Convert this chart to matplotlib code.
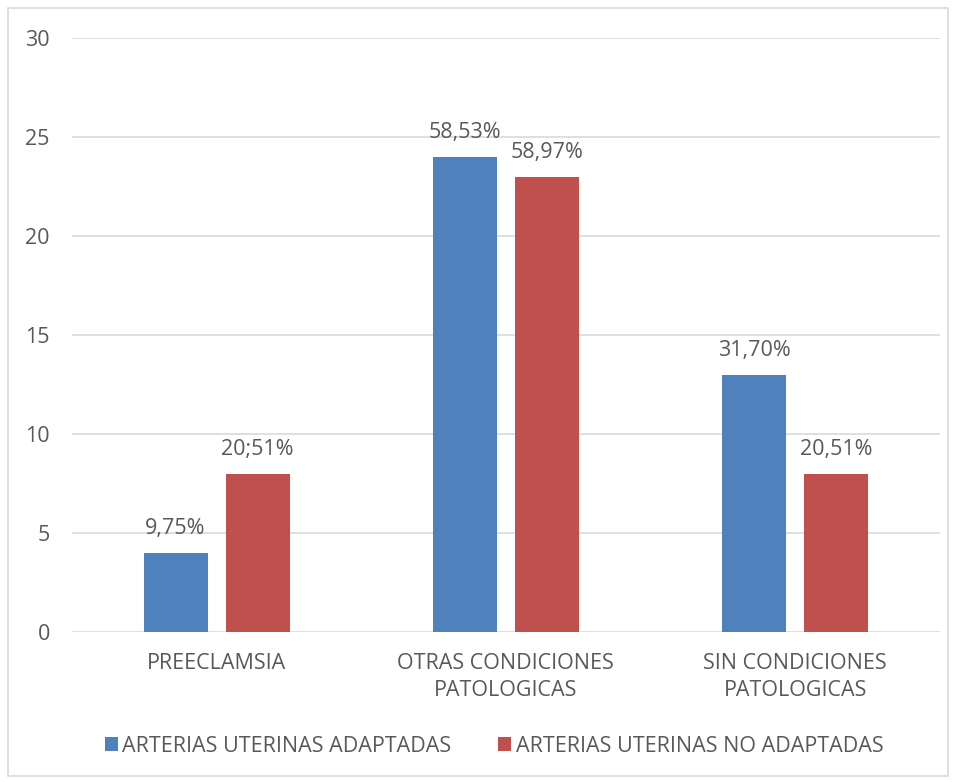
import matplotlib.pyplot as plt
import numpy as np
from matplotlib.patches import Rectangle

# datos del grafico
categorias = ['PREECLAMSIA', 'OTRAS CONDICIONES\nPATOLOGICAS', 'SIN CONDICIONES\nPATOLOGICAS']
adaptadas = [4, 24, 13]
no_adaptadas = [8, 23, 8]
etiquetas_adaptadas = ['9,75%', '58,53%', '31,70%']
etiquetas_no_adaptadas = ['20;51%', '58,97%', '20,51%']
series = ['ARTERIAS UTERINAS ADAPTADAS', 'ARTERIAS UTERINAS NO ADAPTADAS']

azul = '#4F81BD'
rojo = '#C0504D'
gris = '#595959'
tam = 15.5

plt.rcParams['font.family'] = ['Open Sans', 'DejaVu Sans']

fig = plt.figure(figsize=(9.56, 7.82), dpi=100)
ax = fig.add_axes([0.0753, 0.1918, 0.9077, 0.7596])

x = np.arange(len(categorias))
ancho = 0.221
desp = 0.142

b1 = ax.bar(x - desp, adaptadas, ancho, color=azul, label=series[0], zorder=3)
b2 = ax.bar(x + desp, no_adaptadas, ancho, color=rojo, label=series[1], zorder=3)

for barras, textos in ((b1, etiquetas_adaptadas), (b2, etiquetas_no_adaptadas)):
    for b, t in zip(barras, textos):
        ax.annotate(t, (b.get_x() + b.get_width() / 2, b.get_height()),
                    xytext=(0, 10), textcoords='offset points',
                    ha='center', va='bottom', fontsize=tam, color=gris)

ax.set_xlim(-0.5, 2.5)
ax.set_ylim(0, 30)
ax.set_yticks(range(0, 31, 5))
ax.set_xticks(x)
ax.set_xticklabels(categorias, fontsize=tam, color=gris, linespacing=1.4)
ax.tick_params(axis='y', labelsize=tam, labelcolor=gris, length=0, pad=16)
ax.tick_params(axis='x', length=0, pad=15)
ax.grid(axis='y', color='#D9D9D9', linewidth=1.2, zorder=0)
for s in ax.spines.values():
    s.set_visible(False)

ax.legend(loc='center', bbox_to_anchor=(494 / 956, 1 - 746 / 782), bbox_transform=fig.transFigure,
          ncol=2, frameon=False, fontsize=tam, labelcolor=gris,
          handlelength=0.6, handleheight=0.6, handletextpad=0.2, columnspacing=2.2)

# borde exterior del grafico
fig.patches.append(Rectangle((8 / 956, 6 / 782), 940 / 956, 768 / 782,
                             transform=fig.transFigure, fill=False,
                             edgecolor='#D9D9D9', linewidth=1.2))

fig.savefig('out.png', dpi=100)
